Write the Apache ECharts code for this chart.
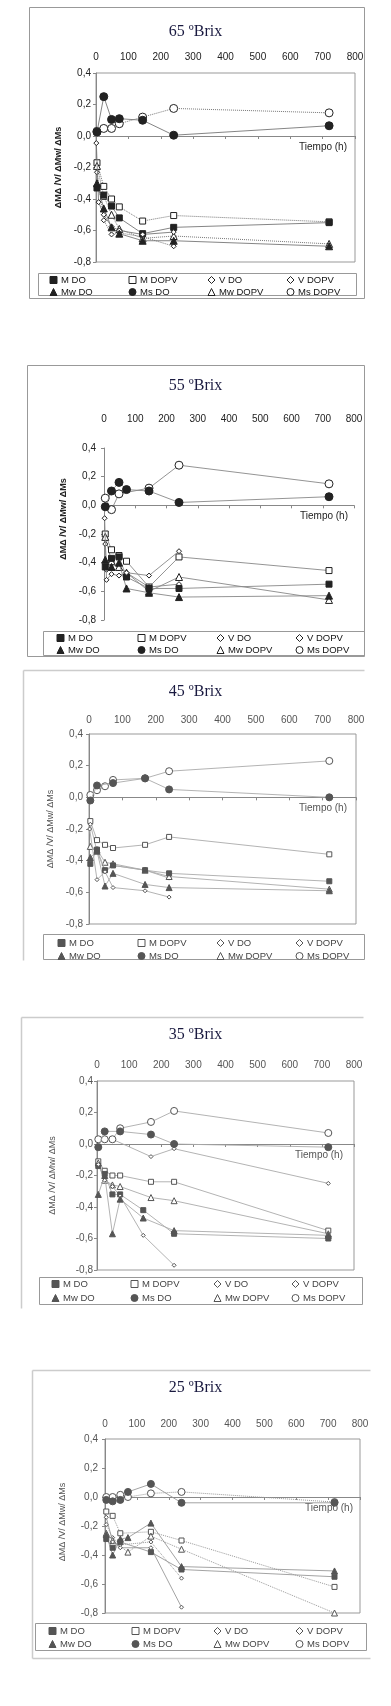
<!DOCTYPE html>
<html>
<head>
<meta charset="utf-8">
<script src="https://cdn.jsdelivr.net/npm/echarts@6/dist/echarts.min.js"></script>
<style>
  html, body { margin: 0; padding: 0; background: #fff; }
  #chart { width: 391px; height: 1706px; }
</style>
</head>
<body>
<div id="chart"></div>
<script>
// series names, same order in every panel
const seriesNames = ['M DO', 'M DOPV', 'V DO', 'V DOPV', 'Mw DO', 'Ms DO', 'Mw DOPV', 'Ms DOPV'];
const panelTitles = ['65 ºBrix', '55 ºBrix', '45 ºBrix', '35 ºBrix', '25 ºBrix'];
const yName = 'ΔMΔ /V/ ΔMw/ ΔMs';
const xName = 'Tiempo (h)';

// 65 ºBrix  [hours, value]
const d65_MDO    = [[3,-0.33],[24,-0.375],[48,-0.445],[72,-0.52],[144,-0.62],[240,-0.58],[720,-0.55]];
const d65_MDOPV  = [[3,-0.17],[24,-0.32],[48,-0.40],[72,-0.45],[144,-0.54],[240,-0.505],[720,-0.545]];
const d65_VDO    = [[1,-0.045],[8,-0.42],[24,-0.50],[48,-0.575],[72,-0.60],[144,-0.625],[240,-0.61]];
const d65_VDOPV  = [[3,-0.23],[24,-0.535],[48,-0.625],[72,-0.615],[144,-0.64],[240,-0.70]];
const d65_MwDO   = [[3,-0.30],[24,-0.46],[48,-0.58],[72,-0.62],[144,-0.665],[240,-0.665],[720,-0.70]];
const d65_MsDO   = [[3,0.025],[24,0.25],[48,0.105],[72,0.11],[144,0.10],[240,0.005],[720,0.065]];
const d65_MwDOPV = [[3,-0.19],[24,-0.38],[48,-0.50],[72,-0.59],[144,-0.65],[240,-0.635],[720,-0.685]];
const d65_MsDOPV = [[3,0.03],[24,0.048],[48,0.048],[72,0.078],[144,0.12],[240,0.175],[720,0.147]];

// 55 ºBrix
const d55_MDO    = [[4,-0.43],[24,-0.37],[48,-0.36],[72,-0.50],[144,-0.58],[240,-0.58],[720,-0.55]];
const d55_MDOPV  = [[4,-0.20],[24,-0.31],[48,-0.35],[72,-0.39],[144,-0.57],[240,-0.36],[720,-0.455]];
const d55_VDO    = [[2,-0.09],[8,-0.52],[24,-0.48],[48,-0.49],[72,-0.47],[144,-0.49],[240,-0.32]];
const d55_VDOPV  = [[4,-0.27],[8,-0.45],[24,-0.40],[48,-0.44],[72,-0.47],[144,-0.57],[240,-0.55]];
const d55_MwDO   = [[4,-0.38],[24,-0.43],[48,-0.40],[72,-0.58],[144,-0.61],[240,-0.64],[720,-0.63]];
const d55_MsDO   = [[4,-0.01],[24,0.10],[48,0.16],[72,0.11],[144,0.10],[240,0.02],[720,0.06]];
const d55_MwDOPV = [[4,-0.22],[24,-0.39],[48,-0.43],[72,-0.47],[144,-0.60],[240,-0.50],[720,-0.66]];
const d55_MsDOPV = [[4,0.05],[24,-0.03],[48,0.08],[144,0.12],[240,0.28],[720,0.15]];

// 45 ºBrix
const d45_MDO    = [[4,-0.42],[24,-0.33],[48,-0.46],[72,-0.43],[168,-0.46],[240,-0.48],[720,-0.53]];
const d45_MDOPV  = [[4,-0.15],[24,-0.27],[48,-0.30],[72,-0.32],[168,-0.30],[240,-0.25],[720,-0.36]];
const d45_VDO    = [[2,-0.20],[24,-0.52],[48,-0.47],[72,-0.57],[168,-0.59],[240,-0.63]];
const d45_VDOPV  = [[4,-0.17],[24,-0.34],[48,-0.47],[72,-0.43],[168,-0.46],[240,-0.51]];
const d45_MwDO   = [[4,-0.38],[24,-0.34],[48,-0.56],[72,-0.48],[168,-0.55],[240,-0.57],[720,-0.59]];
const d45_MsDO   = [[4,-0.02],[24,0.075],[72,0.09],[168,0.12],[240,0.05],[720,0.0]];
const d45_MwDOPV = [[4,-0.31],[24,-0.33],[48,-0.41],[72,-0.42],[168,-0.46],[240,-0.50],[720,-0.58]];
const d45_MsDOPV = [[4,0.015],[24,0.045],[48,0.07],[72,0.11],[168,0.12],[240,0.165],[720,0.23]];

// 35 ºBrix
const d35_MDO    = [[4,-0.14],[24,-0.19],[48,-0.32],[72,-0.32],[144,-0.42],[240,-0.57],[720,-0.60]];
const d35_MDOPV  = [[4,-0.11],[24,-0.17],[48,-0.20],[72,-0.20],[168,-0.24],[240,-0.24],[720,-0.55]];
const d35_VDO    = [[4,-0.13],[24,-0.23],[48,-0.27],[72,-0.33],[144,-0.58],[240,-0.77]];
const d35_VDOPV  = [[4,0.03],[24,0.03],[48,0.03],[168,-0.08],[240,-0.03],[720,-0.25]];
const d35_MwDO   = [[4,-0.32],[24,-0.20],[48,-0.57],[72,-0.35],[144,-0.47],[240,-0.55],[720,-0.58]];
const d35_MsDO   = [[4,-0.02],[24,0.08],[72,0.08],[168,0.06],[240,0.0],[720,-0.02]];
const d35_MwDOPV = [[4,-0.12],[24,-0.23],[48,-0.26],[72,-0.27],[168,-0.34],[240,-0.36],[720,-0.57]];
const d35_MsDOPV = [[4,0.03],[24,0.03],[48,0.03],[72,0.10],[168,0.14],[240,0.21],[720,0.07]];

// 25 ºBrix
const d25_MDO    = [[4,-0.29],[24,-0.35],[48,-0.31],[144,-0.38],[240,-0.50],[720,-0.55]];
const d25_MDOPV  = [[4,-0.10],[24,-0.13],[48,-0.25],[144,-0.24],[240,-0.30],[720,-0.62]];
const d25_VDO    = [[4,-0.14],[24,-0.31],[48,-0.35],[144,-0.35],[240,-0.76]];
const d25_VDOPV  = [[4,-0.19],[24,-0.28],[48,-0.33],[144,-0.31],[240,-0.56]];
const d25_MwDO   = [[4,-0.26],[24,-0.40],[48,-0.29],[72,-0.28],[144,-0.18],[240,-0.48],[720,-0.51]];
const d25_MsDO   = [[4,-0.02],[24,-0.03],[48,-0.02],[72,0.035],[144,0.09],[240,-0.04],[720,-0.04]];
const d25_MwDOPV = [[4,-0.25],[24,-0.30],[72,-0.38],[144,-0.27],[240,-0.36],[720,-0.80]];
const d25_MsDOPV = [[4,0.0],[24,0.0],[48,0.015],[72,0.0],[144,0.025],[240,0.035],[720,-0.035]];

const panelData = [
  [d65_MDO, d65_MDOPV, d65_VDO, d65_VDOPV, d65_MwDO, d65_MsDO, d65_MwDOPV, d65_MsDOPV],
  [d55_MDO, d55_MDOPV, d55_VDO, d55_VDOPV, d55_MwDO, d55_MsDO, d55_MwDOPV, d55_MsDOPV],
  [d45_MDO, d45_MDOPV, d45_VDO, d45_VDOPV, d45_MwDO, d45_MsDO, d45_MwDOPV, d45_MsDOPV],
  [d35_MDO, d35_MDOPV, d35_VDO, d35_VDOPV, d35_MwDO, d35_MsDO, d35_MwDOPV, d35_MsDOPV],
  [d25_MDO, d25_MDOPV, d25_VDO, d25_VDOPV, d25_MwDO, d25_MsDO, d25_MwDOPV, d25_MsDOPV]
];

// marker look per series
const markOf = {
  'M DO':    {symbol: 'rect', fill: true, size: 6},
  'M DOPV':  {symbol: 'rect', fill: false, size: 6},
  'V DO':    {symbol: 'diamond', fill: false, size: 5},
  'V DOPV':  {symbol: 'diamond', fill: false, size: 5},
  'Mw DO':   {symbol: 'triangle', fill: true, size: 7},
  'Ms DO':   {symbol: 'circle', fill: true, size: 8},
  'Mw DOPV': {symbol: 'triangle', fill: false, size: 7},
  'Ms DOPV': {symbol: 'circle', fill: false, size: 8}
};
const legendCols = [['M DO', 'Mw DO'], ['M DOPV', 'Ms DO'], ['V DO', 'Mw DOPV'], ['V DOPV', 'Ms DOPV']];

// page layout of each panel (px)
const layout = [
  {left: 96, top: 73, w: 259, h: 189, box: true, xm: 11, ym: 5, yGap: 29, yShift: 0, tRight: 8, titleTop: 19,
   frame: [[29,7,364,7],[29,7,29,298],[364,7,364,298],[29,298,364,298]], lg: [38,273,318,22],
   rows: [279,289], cols: [53,132,211,290], ink: '#222', line: '#777', dotted: true, bold: true, frameColor: '#999'},
  {left: 104, top: 448, w: 250, h: 172, box: false, xm: 24, ym: 8, yGap: 36, yShift: 30, tRight: 6, titleTop: 373,
   frame: [[27,365,364,365],[27,365,27,656],[364,365,364,656],[27,656,364,656]], lg: [43,631,321,24],
   rows: [637,647], cols: [60,141,220,299], ink: '#222', line: '#888', dotted: false, bold: true, frameColor: '#999'},
  {left: 89, top: 734, w: 267, h: 190, box: true, xm: 9, ym: 6, yGap: 32, yShift: 0, tRight: 9, titleTop: 679,
   frame: [[23,670,364,670],[23,670,23,960]], lg: [43,934,321,25],
   rows: [942,953], cols: [61,141,220,299], ink: '#555', line: '#aaa', dotted: false, bold: false, frameColor: '#ccc'},
  {left: 97, top: 1081, w: 257, h: 189, box: true, xm: 11, ym: 4, yGap: 40, yShift: 0, tRight: 11, titleTop: 1022,
   frame: [[21,1017,363,1017],[21,1017,21,1308]], lg: [39,1277,323,27],
   rows: [1283,1295], cols: [55,134,217,295], ink: '#555', line: '#aaa', dotted: false, bold: false, frameColor: '#ccc'},
  {left: 105, top: 1439, w: 255, h: 174, box: true, xm: 10, ym: 7, yGap: 38, yShift: 8, tRight: 7, titleTop: 1375,
   frame: [[32,1370,370,1370],[32,1370,32,1658],[32,1658,370,1658]], lg: [35,1623,331,27],
   rows: [1630,1641], cols: [52,135,217,299], ink: '#555', line: '#999', dotted: true, bold: false, frameColor: '#ccc'}
];

const fmt = v => v.toFixed(1).replace('.', ',');
const font = 'Liberation Sans, Arial, sans-serif';

let grids = [], xAxes = [], yAxes = [], series = [], legends = [], titles = [], graphics = [];

layout.forEach((L, p) => {
  const ink = L.ink;
  grids.push({left: L.left, top: L.top, width: L.w, height: L.h, show: L.box,
    borderColor: '#999', borderWidth: 1, backgroundColor: 'transparent'});
  titles.push({text: panelTitles[p], left: 'center', top: L.titleTop,
    textStyle: {fontFamily: 'Liberation Serif, DejaVu Serif, serif', fontSize: 16, fontWeight: 'normal', color: '#1a1a40'}});
  // tick labels along the top
  xAxes.push({gridIndex: p, type: 'value', min: 0, max: 800, interval: 100, position: 'top',
    axisLine: {show: false, onZero: false}, axisTick: {show: false}, splitLine: {show: false},
    axisLabel: {margin: L.xm, fontSize: 10, color: ink, fontFamily: font, showMinLabel: true, showMaxLabel: true}});
  // time axis line at y = 0
  xAxes.push({gridIndex: p, type: 'value', min: 0, max: 800, interval: 100, position: 'bottom',
    axisLine: {show: true, onZero: true, lineStyle: {color: '#888', width: 1}},
    axisTick: {show: true, length: 3, lineStyle: {color: '#888'}},
    axisLabel: {show: false}, splitLine: {show: false},
    name: xName, nameLocation: 'end', nameGap: -L.tRight,
    nameTextStyle: {align: 'right', verticalAlign: 'top', padding: [6, 0, 0, 0], fontSize: 10, color: ink, fontFamily: font}});
  yAxes.push({gridIndex: p, type: 'value', min: -0.8, max: 0.4, interval: 0.2,
    axisLine: {show: true, onZero: false, lineStyle: {color: '#888'}},
    axisTick: {show: true, length: 3, lineStyle: {color: '#888'}},
    splitLine: {show: false},
    axisLabel: {formatter: fmt, margin: L.ym, fontSize: 10, color: ink, fontFamily: font},
    name: yName, nameLocation: 'middle', nameGap: L.yGap,
    nameTextStyle: {fontSize: 9, fontWeight: L.bold ? 'bold' : 'normal', color: ink, fontFamily: font,
      padding: [0, 0, 0, L.yShift]}});

  seriesNames.forEach((name, i) => {
    const m = markOf[name];
    const isDOPV = name.indexOf('DOPV') >= 0;
    series.push({
      name: name, type: 'line', xAxisIndex: 2 * p, yAxisIndex: p,
      data: panelData[p][i],
      symbol: m.symbol, symbolSize: p >= 2 ? m.size - 1 : m.size,
      itemStyle: {color: m.fill ? ink : '#fff', borderColor: ink, borderWidth: 1},
      lineStyle: {color: L.line, width: isDOPV && L.dotted ? 1 : 0.9, type: isDOPV && L.dotted ? 'dotted' : 'solid'},
      emphasis: {disabled: true}, animation: false, z: isDOPV ? 3 : 4
    });
  });

  legendCols.forEach((names, c) => {
    legends.push({
      orient: 'vertical', left: L.cols[c] - 3.5, top: L.rows[0] - 4,
      itemWidth: 7, itemHeight: 7, itemGap: L.rows[1] - L.rows[0] - 8,
      selectedMode: false, padding: 0,
      textStyle: {fontSize: 9.5, lineHeight: 8, color: p >= 2 ? '#444' : '#111', fontFamily: font, padding: [0, 0, 0, -1]},
      data: names.map(n => ({
        name: n, icon: markOf[n].symbol,
        itemStyle: {color: markOf[n].fill ? ink : '#fff', borderColor: ink, borderWidth: 1}
      }))
    });
  });

  L.frame.forEach(s => graphics.push({type: 'line', silent: true,
    shape: {x1: s[0] + 0.5, y1: s[1] + 0.5, x2: s[2] + 0.5, y2: s[3] + 0.5},
    style: {stroke: L.frameColor, lineWidth: p >= 2 ? 1.5 : 1}}));
  graphics.push({type: 'rect', silent: true,
    shape: {x: L.lg[0] + 0.5, y: L.lg[1] + 0.5, width: L.lg[2], height: L.lg[3]},
    style: {fill: 'none', stroke: '#999', lineWidth: 1}});
});

const option = {
  backgroundColor: '#fff',
  animation: false,
  title: titles,
  grid: grids,
  xAxis: xAxes,
  yAxis: yAxes,
  legend: legends,
  graphic: graphics,
  series: series
};

const myChart = echarts.init(document.getElementById('chart'), null, {renderer: 'canvas'});
myChart.setOption(option);
</script>
</body>
</html>
